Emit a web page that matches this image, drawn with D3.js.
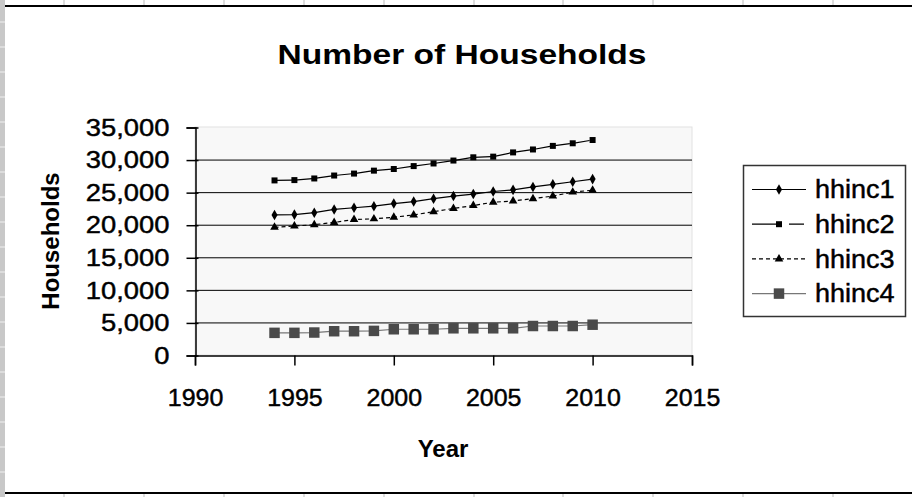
<!DOCTYPE html>
<html lang="en">
<head>
<meta charset="UTF-8" />
<title>Number of Households</title>
<script src="https://d3js.org/d3.v7.min.js"></script>
<style>
    body { margin: 0; background: #fff; }
    text { font-family: "Liberation Sans", Arial, sans-serif; fill: #000; }
    .heavy { stroke: #000; stroke-width: 0.45px; }
</style>
</head>
<body>
<div id="chart"></div>
<script>
// data
var years  = [1994, 1995, 1996, 1997, 1998, 1999, 2000, 2001, 2002, 2003, 2004, 2005, 2006, 2007, 2008, 2009, 2010];
var hhinc1 = [21500, 21550, 21850, 22350, 22600, 22850, 23250, 23550, 24000, 24400, 24700, 25100, 25350, 25800, 26200, 26600, 27000];
var hhinc2 = [26800, 26850, 27100, 27550, 27850, 28300, 28550, 29000, 29400, 29850, 30350, 30450, 31100, 31550, 32100, 32500, 33000];
var hhinc3 = [19600, 19800, 20000, 20350, 20800, 20900, 21150, 21500, 22000, 22500, 22950, 23450, 23650, 24000, 24400, 25000, 25300];
var hhinc4 = [3400, 3400, 3450, 3650, 3650, 3700, 3950, 3950, 3950, 4100, 4100, 4100, 4100, 4450, 4450, 4450, 4650];
var seriesNames = ["hhinc1", "hhinc2", "hhinc3", "hhinc4"];
var xTicks = [1990, 1995, 2000, 2005, 2010, 2015];
var yTicks = [0, 5000, 10000, 15000, 20000, 25000, 30000, 35000];

var W = 912, H = 497;
var svg = d3.select("#chart").append("svg").attr("width", W).attr("height", H);

// stretch a text element horizontally (the screenshot is wider than the fonts)
function widen(sel, k) {
    sel.each(function() {
        var len = this.getComputedTextLength();
        d3.select(this).attr("textLength", len * k).attr("lengthAdjust", "spacingAndGlyphs");
    });
}

// spreadsheet bits around the chart
svg.append("rect").attr("x", 0).attr("y", 0).attr("width", 5).attr("height", H).attr("fill", "#c8c8c8");
d3.range(22, H, 25).forEach(function(y) {
    svg.append("line").attr("x1", 0).attr("x2", 5).attr("y1", y).attr("y2", y).attr("stroke", "#f0f0f0");
});
[64, 144, 224, 304, 384, 474, 563, 653, 743, 833].forEach(function(x) {
    svg.append("line").attr("x1", x).attr("x2", x).attr("y1", 0).attr("y2", 5).attr("stroke", "#bbb");
    svg.append("line").attr("x1", x).attr("x2", x).attr("y1", 494).attr("y2", H).attr("stroke", "#bbb");
});
svg.append("line").attr("x1", 5).attr("x2", W).attr("y1", 6).attr("y2", 6).attr("stroke", "#000").attr("stroke-width", 2);
svg.append("line").attr("x1", 5).attr("x2", W).attr("y1", 493).attr("y2", 493).attr("stroke", "#000").attr("stroke-width", 2);

var x = d3.scaleLinear().domain([1990, 2015]).range([195, 692]);
var y = d3.scaleLinear().domain([0, 35000]).range([355, 127]);

// plot area
svg.append("rect")
    .attr("x", x(1990)).attr("y", y(35000))
    .attr("width", x(2015) - x(1990)).attr("height", y(0) - y(35000))
    .attr("fill", "#f8f8f8").attr("stroke", "#e2e2e2");

// gridlines
svg.append("g").selectAll("line")
    .data(yTicks.filter(function(d) { return d > 0 && d < 35000; }))
    .enter().append("line")
    .attr("x1", x(1990)).attr("x2", x(2015))
    .attr("y1", function(d) { return y(d) + 0.5; }).attr("y2", function(d) { return y(d) + 0.5; })
    .attr("stroke", "#000");

// axes
var yAxis = svg.append("g").attr("transform", "translate(" + (x(1990) + 0.5) + ",0.5)")
    .call(d3.axisLeft(y).tickValues(yTicks).tickSize(9).tickPadding(17).tickFormat(d3.format(",")));
var xAxis = svg.append("g").attr("transform", "translate(0," + (y(0) + 0.5) + ")")
    .call(d3.axisBottom(x).tickValues(xTicks).tickSize(10).tickPadding(23).tickFormat(d3.format("d")));
[yAxis, xAxis].forEach(function(a) {
    a.select(".domain").attr("stroke", "#000").attr("stroke-width", 1.5);
    a.selectAll(".tick line").attr("stroke", "#000").attr("stroke-width", 1.5);
    a.selectAll("text").attr("class", "heavy").style("font-size", "24px")
        .style("font-family", "'Liberation Sans', Arial, sans-serif").attr("fill", "#000");
});
yAxis.selectAll(".tick line").attr("x2", 3).attr("x1", -9);
widen(yAxis.selectAll("text"), 1.14);
widen(xAxis.selectAll("text"), 1.04);

// series
var styles = {
    hhinc1: { data: hhinc1, stroke: "#000", dash: null, sym: d3.symbolDiamond, size: 32, fill: "#000", w: 1.2 },
    hhinc2: { data: hhinc2, stroke: "#000", dash: "18,2", sym: d3.symbolSquare, size: 36, fill: "#000", w: 1.2 },
    hhinc3: { data: hhinc3, stroke: "#000", dash: "4,3", sym: d3.symbolTriangle, size: 32, fill: "#000", w: 1.2 },
    hhinc4: { data: hhinc4, stroke: "#777", dash: null, sym: d3.symbolSquare, size: 110, fill: "#4a4a4a", w: 1.2 }
};

var line = d3.line().x(function(d) { return x(d[0]); }).y(function(d) { return y(d[1]); });

seriesNames.forEach(function(name) {
    var s = styles[name];
    var pts = years.map(function(yr, i) { return [yr, s.data[i]]; });
    svg.append("path").datum(pts).attr("d", line)
        .attr("fill", "none").attr("stroke", s.stroke).attr("stroke-width", s.w)
        .attr("stroke-dasharray", s.dash);
    svg.append("g").selectAll("path").data(pts).enter().append("path")
        .attr("d", d3.symbol().type(s.sym).size(s.size))
        .attr("transform", function(d) { return "translate(" + x(d[0]) + "," + y(d[1]) + ")"; })
        .attr("fill", s.fill);
});

// titles
svg.append("text").attr("x", 462).attr("y", 64).attr("text-anchor", "middle")
    .attr("textLength", 369).attr("lengthAdjust", "spacingAndGlyphs")
    .style("font-size", "27px").style("font-weight", "bold").text("Number of Households");
svg.append("text").attr("x", 443).attr("y", 457).attr("text-anchor", "middle")
    .style("font-size", "24px").style("font-weight", "bold").text("Year");
svg.append("text").attr("transform", "translate(59,241) rotate(-90)").attr("text-anchor", "middle")
    .style("font-size", "24px").style("font-weight", "bold").text("Households");

// legend
var leg = svg.append("g");
leg.append("rect").attr("x", 743.5).attr("y", 165.5).attr("width", 162).attr("height", 151)
    .attr("fill", "#fff").attr("stroke", "#333").attr("stroke-width", 1.5);
seriesNames.forEach(function(name, i) {
    var s = styles[name];
    var ly = 189.5 + i * 34.7;
    leg.append("line").attr("x1", 752).attr("x2", 806).attr("y1", ly).attr("y2", ly)
        .attr("stroke", s.stroke).attr("stroke-width", s.w).attr("stroke-dasharray", name === "hhinc2" ? "24,13,15,20" : s.dash);
    leg.append("path").attr("d", d3.symbol().type(s.sym).size(s.size))
        .attr("transform", "translate(779," + ly + ")").attr("fill", s.fill);
    leg.append("text").attr("class", "heavy").attr("x", 815).attr("y", ly).attr("dy", "0.35em")
        .style("font-size", "25px").text(name);
});
widen(leg.selectAll("text"), 1.08);
</script>
</body>
</html>
